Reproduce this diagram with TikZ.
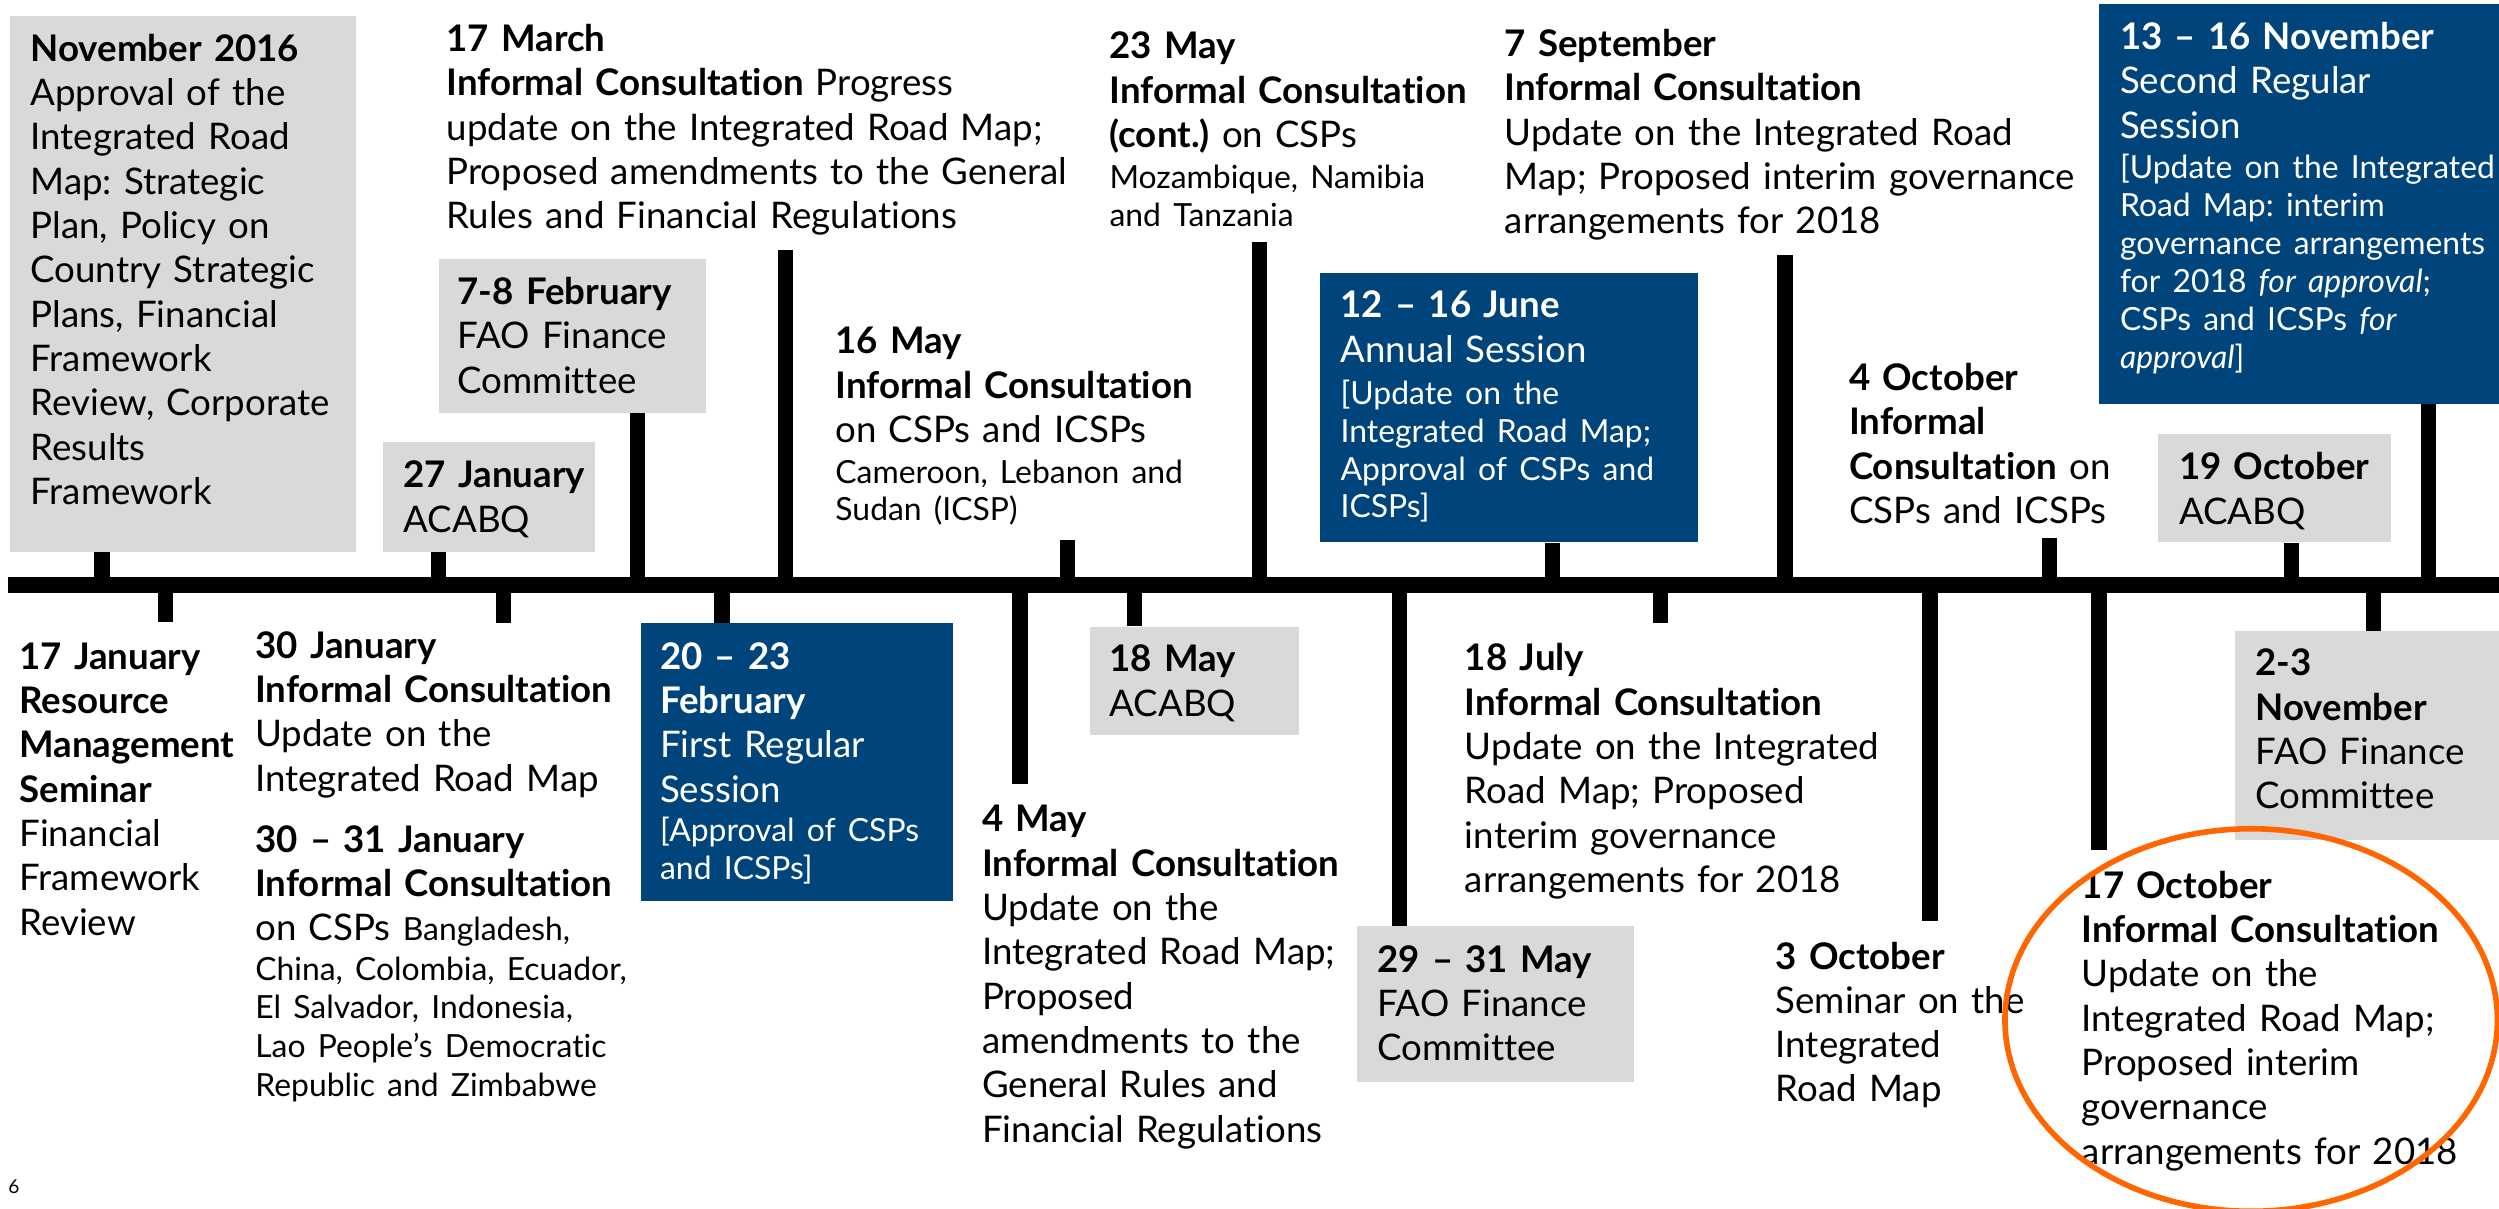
\documentclass[tikz,border=0pt]{standalone}
\usepackage{fontspec}
\setmainfont{Lato}[Ligatures=NoCommon]
\frenchspacing

\definecolor{boxgray}{RGB}{217,217,217}
\definecolor{boxblue}{RGB}{0,68,124}
\definecolor{ringorange}{RGB}{255,102,0}

\newcommand{\bigtxt}{\fontsize{23}{27.8}\selectfont}
\newcommand{\smalltxt}{\fontsize{20}{24}\selectfont}

\tikzset{
    graybox/.style={fill=boxgray, inner sep=0, anchor=north west},
    bluebox/.style={fill=boxblue, inner sep=0, anchor=north west},
    event/.style={anchor=base west, align=left, text width=420pt, inner sep=0, font=\bigtxt},
    session/.style={event, text=white},
    bar/.style={line width=10pt},
    tick/.style={line width=9.5pt},
}

\begin{document}
\begin{tikzpicture}[x=1pt, y=-1pt]

    \useasboundingbox (0,0) rectangle (1568,758);

    % Boxes
    \node[graybox, minimum width=217pt, minimum height=336pt] (nov16) at (6,10) {};
    \node[graybox, minimum width=133pt, minimum height=69pt] (jan27) at (240,277) {};
    \node[graybox, minimum width=168pt, minimum height=97pt] (feb78) at (275,162) {};
    \node[graybox, minimum width=131pt, minimum height=68pt] (may18) at (684,393) {};
    \node[graybox, minimum width=174pt, minimum height=98pt] (may29) at (851,581) {};
    \node[graybox, minimum width=146pt, minimum height=68pt] (oct19) at (1354,272) {};
    \node[graybox, minimum width=166pt, minimum height=131pt] (nov2) at (1402,396) {};
    \node[bluebox, minimum width=196pt, minimum height=174pt] (feb20) at (402,391) {};
    \node[bluebox, minimum width=237pt, minimum height=169pt] (jun12) at (828,171) {};
    \node[bluebox, minimum width=251pt, minimum height=251pt] (nov13) at (1317,2) {};

    % Texts above the line
    \node[event] (nov16txt) at (19,38.5) {\textbf{November 2016}\\ Approval of the\\
        Integrated Road\\ Map: Strategic\\ Plan, Policy on\\ Country Strategic\\
        Plans, Financial\\ Framework\\ Review, Corporate\\ Results\\ Framework};
    \node[event] (jan27txt) at (253,306) {\textbf{27 January}\\ ACABQ};
    \node[event] (feb78txt) at (287,191) {\textbf{7-8 February}\\ FAO Finance\\ Committee};
    \node[event] (mar17) at (280,32.4) {\textbf{17 March}\\
        \textbf{Informal Consultation} Progress\\ update on the Integrated Road Map;\\
        Proposed amendments to the General\\ Rules and Financial Regulations};
    \node[event] (may16) at (524,222) {\textbf{16 May}\\ \textbf{Informal Consultation}\\
        on CSPs and ICSPs\\[-2pt] {\smalltxt Cameroon, Lebanon and}\\[-4.5pt]
        {\smalltxt Sudan (ICSP)}};
    \node[event] (may23) at (696,37) {\textbf{23 May}\\ \textbf{Informal Consultation}\\
        \textbf{(cont.)} on CSPs\\[-2pt] {\smalltxt Mozambique, Namibia}\\[-4pt]
        {\smalltxt and Tanzania}};
    \node[session] (jun12txt) at (841,199.5) {\textbf{12 – 16 June}\\ Annual Session\\[-1.5pt]
        {\smalltxt [Update on the}\\[-4pt] {\smalltxt Integrated Road Map;}\\[-4pt]
        {\smalltxt Approval of CSPs and}\\[-4pt] {\smalltxt ICSPs]}};
    \node[event] (sep7) at (944,35.5) {\textbf{7 September}\\ \textbf{Informal Consultation}\\
        Update on the Integrated Road\\ Map; Proposed interim governance\\
        arrangements for 2018};
    \node[event] (oct4) at (1160,245) {\textbf{4 October}\\ \textbf{Informal}\\
        \textbf{Consultation} on\\ CSPs and ICSPs};
    \node[event] (oct19txt) at (1367,301) {\textbf{19 October}\\ ACABQ};
    \node[session] (nov13txt) at (1330,31) {\textbf{13 – 16 November}\\ Second Regular\\
        Session\\[-2.5pt] {\smalltxt [Update on the Integrated}\\[-4pt]
        {\smalltxt Road Map: interim}\\[-4pt] {\smalltxt governance arrangements}\\[-4pt]
        {\smalltxt for 2018 \textit{for approval};}\\[-4pt]
        {\smalltxt CSPs and ICSPs \textit{for}}\\[-4pt] {\smalltxt \textit{approval}]}};

    % Texts below the line
    \node[event] (jan17) at (12,420) {\textbf{17 January}\\ \textbf{Resource}\\
        \textbf{Management}\\ \textbf{Seminar}\\ Financial\\ Framework\\ Review};
    \node[event] (jan30) at (160,413) {\textbf{30 January}\\ \textbf{Informal Consultation}\\
        Update on the\\ Integrated Road Map};
    \node[event] (jan3031) at (160,534.6) {\textbf{30 – 31 January}\\
        \textbf{Informal Consultation}\\ on CSPs {\smalltxt Bangladesh,}\\[-3pt]
        {\smalltxt China, Colombia, Ecuador,}\\[-3.5pt] {\smalltxt El Salvador, Indonesia,}\\[-3.5pt]
        {\smalltxt Lao People’s Democratic}\\[-3.5pt] {\smalltxt Republic and Zimbabwe}};
    \node[session] (feb20txt) at (414,420) {\textbf{20 – 23}\\ \textbf{February}\\
        First Regular\\ Session\\[-3pt] {\smalltxt [Approval of CSPs}\\[-4pt]
        {\smalltxt and ICSPs]}};
    \node[event] (may4) at (616,522) {\textbf{4 May}\\ \textbf{Informal Consultation}\\
        Update on the\\ Integrated Road Map;\\ Proposed\\ amendments to the\\
        General Rules and\\ Financial Regulations};
    \node[event] (may18txt) at (696,421.5) {\textbf{18 May}\\ ACABQ};
    \node[event] (may29txt) at (864,610) {\textbf{29 – 31 May}\\ FAO Finance\\ Committee};
    \node[event] (jul18) at (919,421) {\textbf{18 July}\\ \textbf{Informal Consultation}\\
        Update on the Integrated\\ Road Map; Proposed\\ interim governance\\
        arrangements for 2018};
    \node[event] (oct3) at (1114,608) {\textbf{3 October}\\ Seminar on the\\ Integrated\\
        Road Map};
    \node[event] (oct17) at (1306,563.6) {\textbf{17 October}\\ \textbf{Informal Consultation}\\
        Update on the\\ Integrated Road Map;\\ Proposed interim\\ governance\\
        arrangements for 2018};
    \node[event] (nov2txt) at (1415,424) {\textbf{2-3}\\ \textbf{November}\\ FAO Finance\\
        Committee};

    \node[anchor=base west, inner sep=0, font=\fontsize{12}{14}\selectfont] (page) at (5,749) {6};

    % Timeline
    \coordinate (tstart) at (5,367);
    \coordinate (tend) at (1568,367);
    \foreach \n/\x in {nov16/64, jan27/275, feb78/400, mar17/493, may16/670, may23/790,
        jun12/974, sep7/1120, oct4/1286, oct19/1438, nov13/1524, jan17/104, jan30/316,
        feb20/453, may4/640, may18/712, may29/878, jul18/1042, oct3/1211, oct17/1317,
        nov2/1489}
        \coordinate (t\n) at (\x,367);

    \draw[bar] (tstart) -- (tend);

    % Ticks to boxes
    \foreach \n in {nov16, jan27, feb78, jun12, oct19, nov13}
        \draw[tick] (t\n) -- (t\n |- \n.south);
    \foreach \n in {feb20, may18, may29, nov2}
        \draw[tick] (t\n) -- (t\n |- \n.north);

    % Ticks to texts
    \foreach \n in {mar17, may16, may23, sep7, oct4}
        \draw[tick, shorten >=9pt] (t\n) -- (t\n |- \n.south);
    \foreach \n in {jan17, may4, jul18, oct3, oct17}
        \draw[tick, shorten >=13pt] (t\n) -- (t\n |- \n.north);
    \draw[tick, shorten >=5pt] (tjan30) -- (tjan30 |- jan30.north);

    % Highlight
    \draw[ringorange, line width=3.5pt] (1412.5,640) ellipse [x radius=154.5, y radius=120];

\end{tikzpicture}
\end{document}
